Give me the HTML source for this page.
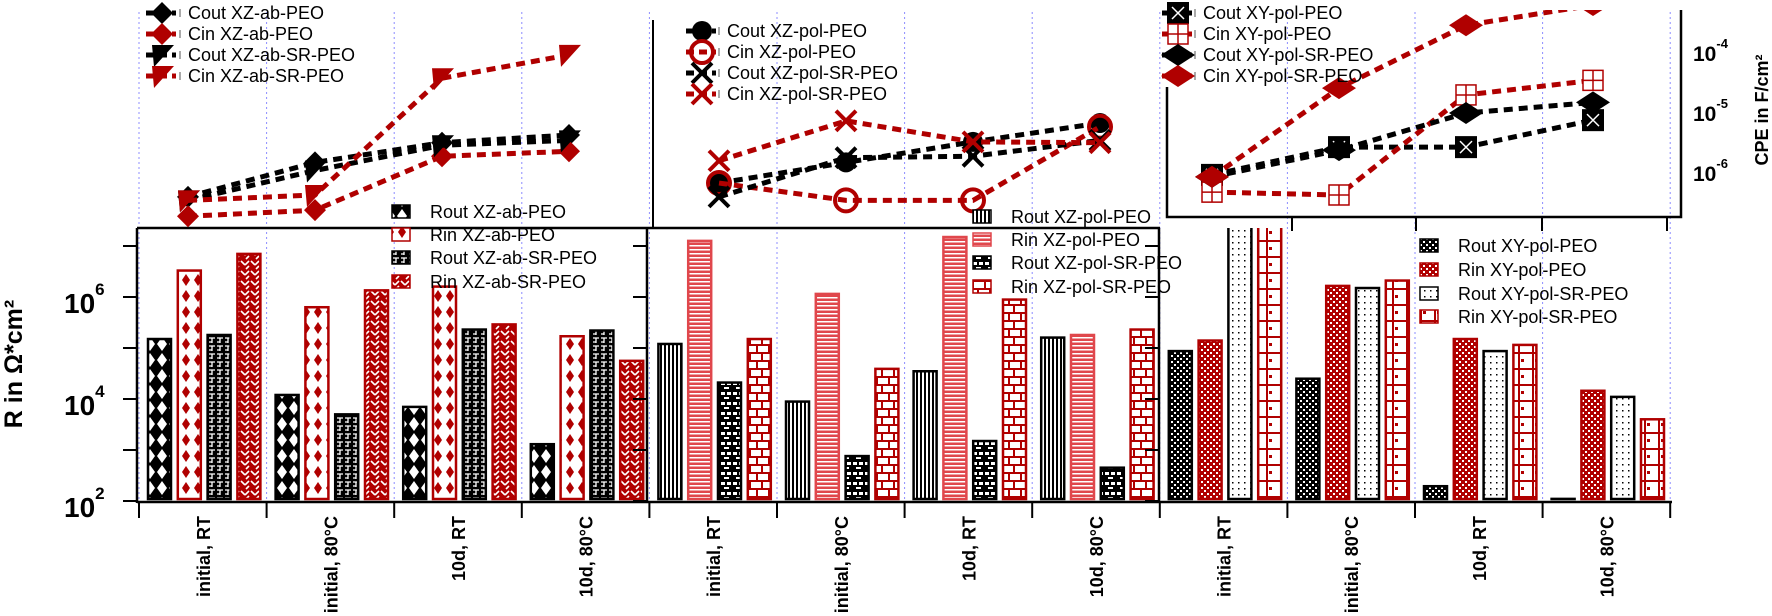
<!DOCTYPE html>
<html><head><meta charset="utf-8">
<style>
html,body{margin:0;padding:0;background:#fff;}
svg{display:block;font-family:"Liberation Sans",Arial,sans-serif;}
</style></head>
<body>
<svg id="chart" width="1772" height="616" viewBox="0 0 1772 616" xmlns="http://www.w3.org/2000/svg">
<defs>
<pattern id="pRoutAb" patternUnits="userSpaceOnUse" width="12" height="16"><rect width="12" height="16" fill="#000"/><polygon points="6,1 11,8 6,15 1,8" fill="#fff"/></pattern>
<pattern id="pRinAb" patternUnits="userSpaceOnUse" width="12" height="16"><rect width="12" height="16" fill="#fff"/><polygon points="6,2 10,8 6,14 2,8" fill="#b00000"/></pattern>
<pattern id="pRoutAbSR" patternUnits="userSpaceOnUse" width="8" height="8"><rect width="8" height="8" fill="#000"/><path d="M1 2h6M4 2v5M1 6h3" stroke="#fff" stroke-width="1.3"/></pattern>
<pattern id="pRinAbSR" patternUnits="userSpaceOnUse" width="10" height="10"><rect width="10" height="10" fill="#b00000"/><path d="M1 1l4 4M6 9l3-3M5 5l4-4" stroke="#fff" stroke-width="1.6"/></pattern>
<pattern id="pRoutPol" patternUnits="userSpaceOnUse" width="4" height="4"><rect width="4" height="4" fill="#fff"/><rect width="2" height="4" fill="#000"/></pattern>
<pattern id="pRinPol" patternUnits="userSpaceOnUse" width="4" height="4"><rect width="4" height="4" fill="#e0474c"/><rect y="1" width="4" height="1.5" fill="#fff"/></pattern>
<pattern id="pRoutPolSR" patternUnits="userSpaceOnUse" width="12" height="10"><rect width="12" height="10" fill="#000"/><rect x="1" y="2" width="4" height="3" fill="#fff"/><rect x="7" y="2" width="4" height="3" fill="#fff"/><rect x="4" y="7" width="5" height="2" fill="#fff"/></pattern>
<pattern id="pRinPolSR" patternUnits="userSpaceOnUse" width="12" height="16"><rect width="12" height="16" fill="#fff"/><path d="M0 1h12M0 9h12M6 1v8M1 9v7" stroke="#b00000" stroke-width="2"/></pattern>
<pattern id="pRoutXY" patternUnits="userSpaceOnUse" width="6" height="6"><rect width="6" height="6" fill="#000"/><rect x="1" y="1" width="2" height="2" fill="#fff"/><rect x="4" y="4" width="2" height="2" fill="#fff"/></pattern>
<pattern id="pRinXY" patternUnits="userSpaceOnUse" width="6" height="6"><rect width="6" height="6" fill="#b00000"/><rect x="1" y="1" width="2" height="2" fill="#fff"/><rect x="4" y="4" width="2" height="2" fill="#fff"/></pattern>
<pattern id="pRoutXYSR" patternUnits="userSpaceOnUse" width="6" height="6"><rect width="6" height="6" fill="#fff"/><rect x="2" y="2" width="1.5" height="1.5" fill="#000"/></pattern>
<pattern id="pRinXYSR" patternUnits="userSpaceOnUse" width="14" height="16"><rect width="14" height="16" fill="#fff"/><path d="M0 1h14M7 0v16" stroke="#b00000" stroke-width="2"/><rect x="9" y="7" width="3" height="3" fill="#b00000"/></pattern>
<clipPath id="barClip"><rect x="0" y="228" width="1772" height="280"/></clipPath>
<clipPath id="lineClip"><rect x="0" y="10" width="1681" height="230"/></clipPath>
</defs>
<g id="grid"></g>
<g id="bars" clip-path="url(#barClip)"></g>
<g id="axes"></g>
<g id="lines" clip-path="url(#lineClip)"></g>
<g id="legends"></g>
</svg>
<script>
// ---- data ----
const categories = ["initial, RT","initial, 80°C","10d, RT","10d, 80°C"];
const yTicksR = [2,3,4,5,6,7];
const yTicksC = [-6,-5,-4];
// bar data (R in Ohm*cm2) per panel
const routAb   = [1.5e5, 1.2e4, 7e3, 1.3e3];
const rinAb    = [3.3e6, 6.3e5, 1.6e6, 1.7e5];
const routAbSR = [1.8e5, 5e3, 2.3e5, 2.2e5];
const rinAbSR  = [7e6, 1.35e6, 2.9e5, 5.6e4];
const routPol   = [1.2e5, 8.9e3, 3.5e4, 1.6e5];
const rinPol    = [1.26e7, 1.15e6, 1.5e7, 1.8e5];
const routPolSR = [2.1e4, 7.6e2, 1.5e3, 4.5e2];
const rinPolSR  = [1.5e5, 3.9e4, 8.9e5, 2.3e5];
const routXY   = [8.7e4, 2.5e4, 1.95e2, 1.1e2];
const rinXY    = [1.4e5, 1.65e6, 1.5e5, 1.45e4];
const routXYSR = [5e7, 1.5e6, 8.7e4, 1.1e4];
const rinXYSR  = [5e7, 2.1e6, 1.15e5, 4e3];
// CPE data (F/cm2)
const coutAb   = [4.0e-7, 1.5e-6, 3.2e-6, 4.3e-6];
const cinAb    = [1.9e-7, 2.4e-7, 1.9e-6, 2.3e-6];
const coutAbSR = [3.5e-7, 1.1e-6, 2.9e-6, 3.5e-6];
const cinAbSR  = [3.5e-7, 4.3e-7, 3.8e-5, 9.3e-5];
const coutPol   = [6.8e-7, 1.5e-6, 3.3e-6, 6.8e-6];
const cinPol    = [6.8e-7, 3.5e-7, 3.5e-7, 5.9e-6];
const coutPolSR = [4.0e-7, 1.8e-6, 1.9e-6, 3.5e-6];
const cinPolSR  = [1.6e-6, 7.4e-6, 3.3e-6, 3.2e-6];
const coutXY   = [9.3e-7, 2.7e-6, 2.7e-6, 7.6e-6];
const cinXY    = [4.8e-7, 4.3e-7, 2.0e-5, 3.5e-5];
const coutXYSR = [8.6e-7, 2.4e-6, 1.0e-5, 1.5e-5];
const cinXYSR  = [8.6e-7, 2.6e-5, 2.9e-4, 6.3e-4];

const NS="http://www.w3.org/2000/svg";
function mk(tag,attrs,parent,text){const e=document.createElementNS(NS,tag);for(const k in attrs)e.setAttribute(k,attrs[k]);if(text!==undefined)e.textContent=text;parent.appendChild(e);return e;}
const gGrid=document.getElementById('grid'),gBars=document.getElementById('bars'),gAxes=document.getElementById('axes'),gLines=document.getElementById('lines'),gLeg=document.getElementById('legends');

// scales
const tick0=139, catW=127.6;
function catX(i){return tick0+i*catW;}
function yR(v){return 501-(Math.log10(v)-2)*51;}
function yC(v){return 113-(Math.log10(v)+5)*60;}
const lineX0=[188,719,1212];
function xL(p,i){return lineX0[p]+i*127;}

// gridlines
for(let i=0;i<=12;i++){
  const l=mk('line',{x1:catX(i),x2:catX(i),y1:12,y2:500,stroke:'#8c8cff','stroke-width':1,'stroke-dasharray':'2,3'},gGrid);
  
  
}

// bars
const panels=[
 {name:'xz-ab',series:[routAb,rinAb,routAbSR,rinAbSR],fills:['url(#pRoutAb)','url(#pRinAb)','url(#pRoutAbSR)','url(#pRinAbSR)'],strokes:['#000','#b00000','#000','#b00000'],labels:['Rout XZ-ab-PEO','Rin XZ-ab-PEO','Rout XZ-ab-SR-PEO','Rin XZ-ab-SR-PEO']},
 {name:'xz-pol',series:[routPol,rinPol,routPolSR,rinPolSR],fills:['url(#pRoutPol)','url(#pRinPol)','url(#pRoutPolSR)','url(#pRinPolSR)'],strokes:['#000','#e0474c','#000','#b00000'],labels:['Rout XZ-pol-PEO','Rin XZ-pol-PEO','Rout XZ-pol-SR-PEO','Rin XZ-pol-SR-PEO']},
 {name:'xy-pol',series:[routXY,rinXY,routXYSR,rinXYSR],fills:['url(#pRoutXY)','url(#pRinXY)','url(#pRoutXYSR)','url(#pRinXYSR)'],strokes:['#000','#b00000','#000','#b00000'],labels:['Rout XY-pol-PEO','Rin XY-pol-PEO','Rout XY-pol-SR-PEO','Rin XY-pol-SR-PEO']}
];
panels.forEach((p,pi)=>{
  p.series.forEach((s,si)=>{
    s.forEach((v,ci)=>{
      const x=catX(pi*4+ci)+8+si*29.8, y=yR(v);
      const r=mk('rect',{x:x+1,y:y,width:23,height:Math.max(0,499-y),fill:p.fills[si],stroke:p.strokes[si],'stroke-width':2.5},gBars);
      
      
    });
  });
});

// axes
const axisX=[137,647,1159];
axisX.forEach((ax,pi)=>{
  const l=mk('line',{x1:ax,x2:ax,y1:228,y2:503,stroke:'#000','stroke-width':2.5},gAxes);
  
  
  yTicksR.forEach(t=>{
    const tk=mk('line',{x1:ax-14,x2:ax,y1:yR(Math.pow(10,t)),y2:yR(Math.pow(10,t)),stroke:'#000','stroke-width':2},gAxes);
    
    
  });
});
const fr=mk('line',{x1:137,x2:1160,y1:228,y2:228,stroke:'#000','stroke-width':2.5},gAxes);


const xb=mk('line',{x1:137,x2:1672,y1:502,y2:502,stroke:'#000','stroke-width':2.5},gAxes);


for(let i=0;i<=12;i++){
  const tk=mk('line',{x1:catX(i),x2:catX(i),y1:502,y2:518,stroke:'#000','stroke-width':2},gAxes);
  
  
}
for(let i=0;i<12;i++){
  const cx=catX(i)+catW/2+7;
  const t=mk('text',{x:0,y:0,transform:`translate(${cx},516) rotate(-90)`,'text-anchor':'end','font-size':18,'font-weight':'bold'},gAxes,categories[i%4]);
  
  
}
// y tick labels (left)
[2,4,6].forEach(t=>{
  const y=yR(Math.pow(10,t));
  const tx=mk('text',{x:64,y:y+16,'font-size':28,'font-weight':'bold'},gAxes);
  
  
  mk('tspan',{},tx,'10');
  mk('tspan',{dy:-18,'font-size':17},tx,String(t));
});
const yt=mk('text',{x:0,y:0,transform:'translate(22,364) rotate(-90)','text-anchor':'middle','font-size':25,'font-weight':'bold'},gAxes,'R in Ω*cm²');



// top plot axes
const a2=mk('line',{x1:653,x2:653,y1:20,y2:228,stroke:'#000','stroke-width':2},gAxes);


const a3=mk('path',{d:'M1167 87V217H1681V10',fill:'none',stroke:'#000','stroke-width':2.5},gAxes);


[1292,1416,1542,1667].forEach(x=>{
  const tk=mk('line',{x1:x,x2:x,y1:217,y2:231,stroke:'#000','stroke-width':2},gAxes);
  
  
});
yTicksC.forEach(t=>{
  const y=yC(Math.pow(10,t));
  const tx=mk('text',{x:1693,y:y+8,'font-size':21,'font-weight':'bold'},gAxes);
  
  
  mk('tspan',{},tx,'10');
  mk('tspan',{dy:-13,'font-size':13},tx,String(t));
});
const ct=mk('text',{x:0,y:0,transform:'translate(1768,110) rotate(-90)','text-anchor':'middle','font-size':18,'font-weight':'bold'},gAxes,'CPE in F/cm²');



// markers
function marker(g,type,x,y,col){
  const s=11;
  if(type==='diamond') return mk('polygon',{points:`${x},${y-s} ${x+s},${y} ${x},${y+s} ${x-s},${y}`,fill:col},g);
  if(type==='wdiamond') return mk('polygon',{points:`${x},${y-s} ${x+s+6},${y} ${x},${y+s} ${x-s-6},${y}`,fill:col},g);
  if(type==='tri') return mk('polygon',{points:`${x-10},${y-10} ${x+12},${y-10} ${x-8},${y+12}`,fill:col},g);
  if(type==='circle') return mk('circle',{cx:x,cy:y,r:10,fill:col},g);
  if(type==='ocircle') return mk('circle',{cx:x,cy:y,r:11,fill:'none',stroke:col,'stroke-width':4},g);
  if(type==='x') return mk('path',{d:`M${x-10} ${y-10}L${x+10} ${y+10}M${x+10} ${y-10}L${x-10} ${y+10}`,stroke:col,'stroke-width':4},g);
  if(type==='sqx'){const gg=mk('g',{},g);mk('rect',{x:x-11,y:y-11,width:22,height:22,fill:col},gg);mk('path',{d:`M${x-6} ${y-6}L${x+6} ${y+6}M${x+6} ${y-6}L${x-6} ${y+6}`,stroke:'#fff','stroke-width':1.5},gg);return gg;}
  if(type==='osq'){const gg=mk('g',{},g);mk('rect',{x:x-10,y:y-10,width:20,height:20,fill:'#fff',stroke:col,'stroke-width':1.5},gg);mk('path',{d:`M${x} ${y-10}V${y+10}M${x-10} ${y}H${x+10}`,stroke:col,'stroke-width':1.5},gg);return gg;}
}
const lineSeries=[
 {p:0,d:coutAb,col:'#000',m:'diamond',n:'Cout XZ-ab-PEO'},
 {p:0,d:cinAb,col:'#b00000',m:'diamond',n:'Cin XZ-ab-PEO'},
 {p:0,d:coutAbSR,col:'#000',m:'tri',n:'Cout XZ-ab-SR-PEO'},
 {p:0,d:cinAbSR,col:'#b00000',m:'tri',n:'Cin XZ-ab-SR-PEO'},
 {p:1,d:coutPol,col:'#000',m:'circle',n:'Cout XZ-pol-PEO'},
 {p:1,d:cinPol,col:'#b00000',m:'ocircle',n:'Cin XZ-pol-PEO'},
 {p:1,d:coutPolSR,col:'#000',m:'x',n:'Cout XZ-pol-SR-PEO'},
 {p:1,d:cinPolSR,col:'#b00000',m:'x',n:'Cin XZ-pol-SR-PEO'},
 {p:2,d:coutXY,col:'#000',m:'sqx',n:'Cout XY-pol-PEO'},
 {p:2,d:cinXY,col:'#b00000',m:'osq',n:'Cin XY-pol-PEO'},
 {p:2,d:coutXYSR,col:'#000',m:'wdiamond',n:'Cout XY-pol-SR-PEO'},
 {p:2,d:cinXYSR,col:'#b00000',m:'wdiamond',n:'Cin XY-pol-SR-PEO'}
];
lineSeries.forEach((s,k)=>{
  const pts=s.d.map((v,i)=>`${xL(s.p,i)},${yC(v)}`).join(' ');
  const pl=mk('polyline',{points:pts,fill:'none',stroke:s.col,'stroke-width':5,'stroke-dasharray':'9,6'},gLines);
  
  
  s.d.forEach((v,i)=>{
    const m=marker(gLines,s.m,xL(s.p,i),yC(v),s.col);
    
    
  });
});

// legends
const lineLegPos=[{x:146,tx:188,y:[13,34,55,76]},{x:686,tx:727,y:[31,52,73,94]},{x:1162,tx:1203,y:[13,34,55,76]}];
lineSeries.forEach((s,k)=>{
  const L=lineLegPos[s.p], y=L.y[k%4];
  const g=mk('g',{},gLeg);
  
  
  mk('line',{x1:L.x,x2:L.x+30,y1:y,y2:y,stroke:s.col,'stroke-width':5,'stroke-dasharray':'8,5'},g);
  marker(g,s.m,L.x+16,y,s.col);
  mk('line',{x1:L.tx-8,x2:L.tx-8,y1:y-4,y2:y+4,stroke:'#555','stroke-width':1},g);
  mk('text',{x:L.tx,y:y+6,'font-size':18},g,s.n);
});
const barLegPos=[{x:392,tx:430,y:[212,235,258,282]},{x:973,tx:1011,y:[217,240,263,287]},{x:1420,tx:1458,y:[246,270,294,317]}];
panels.forEach((p,pi)=>{
  const L=barLegPos[pi];
  p.labels.forEach((lab,si)=>{
    const y=L.y[si];
    const g=mk('g',{},gLeg);
    
    
    mk('rect',{x:L.x,y:y-7,width:18,height:13,fill:p.fills[si],stroke:p.strokes[si],'stroke-width':1.5},g);
    mk('text',{x:L.tx,y:y+6,'font-size':18},g,lab);
  });
});
</script>
</body></html>
